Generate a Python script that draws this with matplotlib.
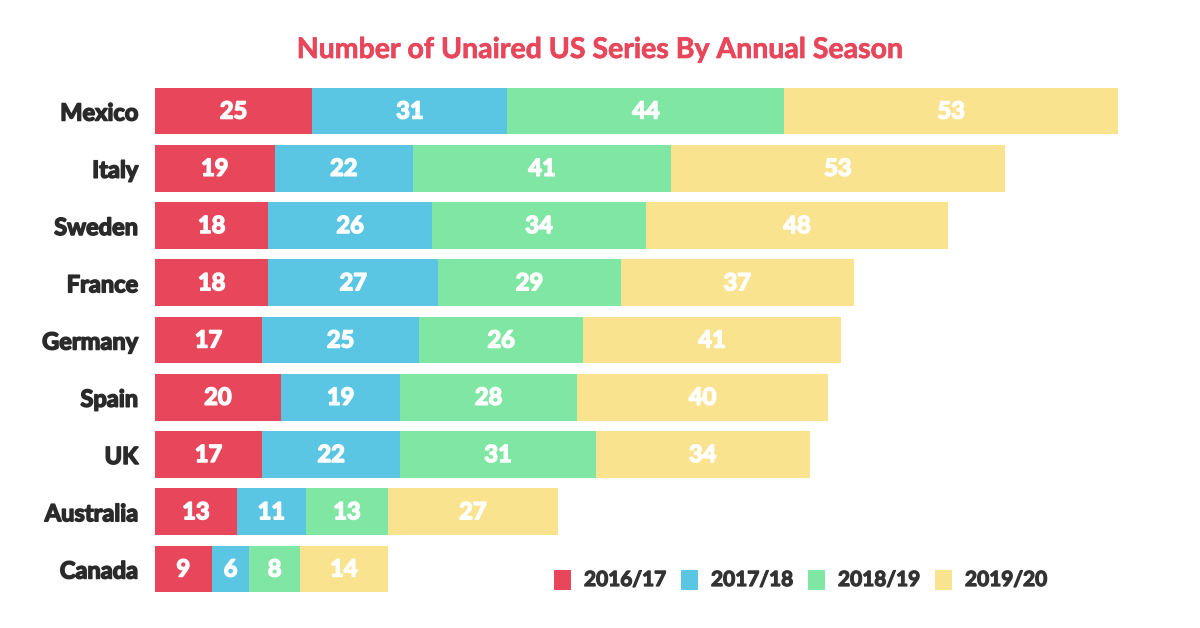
import matplotlib.pyplot as plt
import matplotlib.patheffects as pe
from matplotlib.patches import Rectangle

countries = ["Mexico", "Italy", "Sweden", "France", "Germany", "Spain", "UK", "Australia", "Canada"]
seasons = ["2016/17", "2017/18", "2018/19", "2019/20"]
s1617 = [25, 19, 18, 18, 17, 20, 17, 13, 9]
s1718 = [31, 22, 26, 27, 25, 19, 22, 11, 6]
s1819 = [44, 41, 34, 29, 26, 28, 31, 13, 8]
s1920 = [53, 53, 48, 37, 41, 40, 34, 27, 14]

colors = ["#E8475B", "#5BC6E3", "#80E6A4", "#F9E38F"]

plt.rcParams['font.family'] = ['Lato', 'DejaVu Sans']


def heavy(c, w=1.1):
    # fake a heavier weight with a thin stroke of the same colour
    return [pe.withStroke(linewidth=w, foreground=c)]


fig = plt.figure(figsize=(12, 6.28), dpi=100)
ax = fig.add_axes([155 / 1200, 1 - 597.6 / 628, 1000 / 1200, (597.6 - 82.4) / 628])

ypos = list(range(len(countries)))
left = [0] * len(countries)
for series, col in zip([s1617, s1718, s1819, s1920], colors):
    ax.barh(ypos, series, left=left, height=0.82, color=col, edgecolor='none')
    for y, v, l in zip(ypos, series, left):
        ax.text(l + v / 2, y, str(v), ha='center', va='center', color='white',
                fontsize=17, fontweight='bold', path_effects=heavy('white'))
    left = [a + b for a, b in zip(left, series)]

ax.set_xlim(0, 1000 / 6.294)
ax.set_ylim(8.5, -0.5)
ax.set_yticks(ypos)
ax.set_yticklabels(countries, fontsize=17, fontweight='bold', color='#2a2a2a')
for t in ax.get_yticklabels():
    t.set_path_effects(heavy('#2a2a2a'))
ax.tick_params(axis='y', length=0, pad=12)
ax.set_xticks([])
for s in ax.spines.values():
    s.set_visible(False)

fig.text(0.5, 1 - 50 / 628, "Number of Unaired US Series By Annual Season",
         ha='center', va='center', color='#E8475B', fontsize=20.5, fontweight='bold',
         path_effects=heavy('#E8475B', 0.5))

# legend, laid out by hand to match the reference spacing
leg_x = [554, 681, 808, 935]
leg_y = 580
for x, c, lab in zip(leg_x, colors, seasons):
    fig.patches.append(Rectangle((x / 1200, 1 - (leg_y + 10) / 628), 17 / 1200, 20 / 628,
                                 transform=fig.transFigure, facecolor=c, edgecolor='none'))
    fig.text((x + 30) / 1200, 1 - leg_y / 628, lab, ha='left', va='center',
             fontsize=15, fontweight='bold', color='#333333', path_effects=heavy('#333333', 0.9))

fig.savefig("out.png", dpi=100, facecolor='white')
